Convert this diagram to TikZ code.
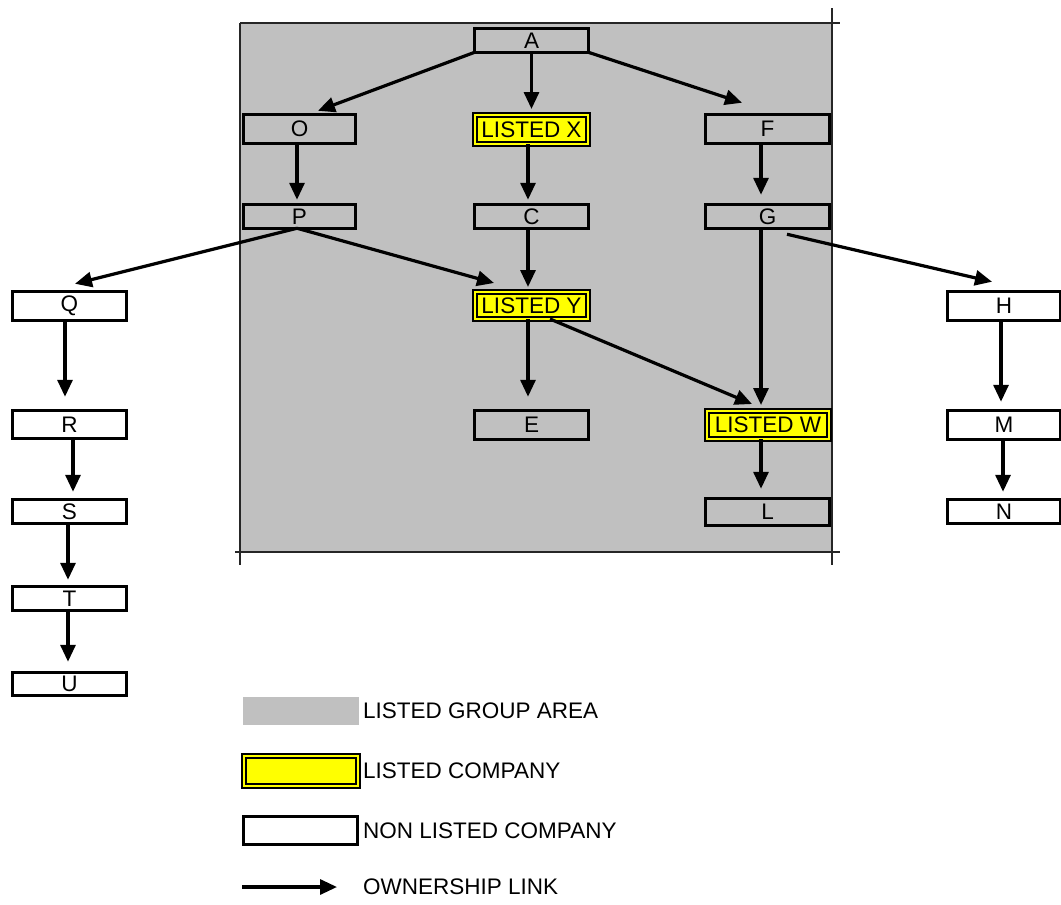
\documentclass[tikz,border=0pt]{standalone}
\usepackage{fontspec}
\setmainfont{Liberation Sans}
\usetikzlibrary{arrows.meta}
\definecolor{areagrey}{HTML}{C0C0C0}
\definecolor{listedyellow}{HTML}{FFFF00}
\begin{document}
\begin{tikzpicture}[x=1pt,y=-1pt,
  lbl/.style={font=\fontsize{22.5}{26}\selectfont},
  box/.style={draw, line width=3.2pt, inner sep=0pt, outer sep=0pt, lbl},
  listed/.style={draw, line width=2.6pt, double=listedyellow, double distance=1.5pt,
    fill=listedyellow, inner sep=0pt, outer sep=0pt, lbl},
  whitebox/.style={box, fill=white},
  arr/.style={line width=3.2pt, -{Triangle[length=17pt,width=15pt]}},
  thin/.style={line width=1.4pt, black!85}
]
\useasboundingbox (0,0) rectangle (1061,905);
% listed group area
\fill[areagrey] (240,23) rectangle (832,552);
\draw[thin] (240,23) -- (840,23);
\draw[thin] (832,8) -- (832,565);
\draw[thin] (240,23) -- (240,565);
\draw[thin] (235,552) -- (840,552);

% nodes: inside area
\node[box, minimum width=113.5pt, minimum height=23.5pt] (A) at (531.5,40.5) {A};
\node[box, minimum width=111.5pt, minimum height=28.5pt] (O) at (299.5,129) {O};
\node[listed, minimum width=113pt, minimum height=29pt] (X) at (531.5,129.5) {LISTED X};
\node[box, minimum width=123.5pt, minimum height=28.5pt] (F) at (767.5,129) {F};
\node[box, minimum width=111.5pt, minimum height=23.5pt] (P) at (299.5,216.5) {P};
\node[box, minimum width=113.5pt, minimum height=23.5pt] (C) at (531.5,216.5) {C};
\node[box, minimum width=123.5pt, minimum height=23.5pt] (G) at (767.5,216.5) {G};
\node[listed, minimum width=113pt, minimum height=27pt] (Y) at (531.5,305.5) {LISTED Y};
\node[box, minimum width=113.5pt, minimum height=28.5pt] (E) at (531.5,425) {E};
\node[listed, minimum width=122pt, minimum height=28pt] (W) at (768,425) {LISTED W};
\node[box, minimum width=123.5pt, minimum height=26.5pt] (L) at (767.5,512) {L};

% nodes: outside area
\node[whitebox, minimum width=113.5pt, minimum height=28.5pt] (Q) at (69.5,306) {Q};
\node[whitebox, minimum width=113.5pt, minimum height=27.5pt] (R) at (69.5,424.5) {R};
\node[whitebox, minimum width=113.5pt, minimum height=23.5pt] (S) at (69.5,511.5) {S};
\node[whitebox, minimum width=113.5pt, minimum height=23.5pt] (T) at (69.5,598.5) {T};
\node[whitebox, minimum width=113.5pt, minimum height=22.5pt] (U) at (69.5,684) {U};
\node[whitebox, minimum width=113.5pt, minimum height=28.5pt] (H) at (1004,306) {H};
\node[whitebox, minimum width=113.5pt, minimum height=28.5pt] (M) at (1004,425) {M};
\node[whitebox, minimum width=113.5pt, minimum height=23.5pt] (N) at (1004,511.5) {N};

% ownership links
\draw[arr] (A.south west) -- ([xshift=18.5pt,yshift=4pt]O.north);
\draw[arr] (A.south) -- ([yshift=6pt]X.north);
\draw[arr] (A.south east) -- ([xshift=-25.5pt,yshift=12pt]F.north);
\draw[arr] ([xshift=-2.5pt]O.south) -- ([xshift=-2.5pt,yshift=5pt]P.north);
\draw[arr] ([xshift=-3.5pt]X.south) -- ([xshift=-3.5pt,yshift=5pt]C.north);
\draw[arr] ([xshift=-6.5pt]F.south) -- ([xshift=-6.5pt,yshift=10pt]G.north);
\draw[arr] ([xshift=-2.5pt]P.south) -- ([xshift=5.5pt,yshift=8pt]Q.north);
\draw[arr] ([xshift=-2.5pt]P.south) -- ([xshift=-37.5pt,yshift=9pt]Y.north);
\draw[arr] ([xshift=-3.5pt]C.south) -- ([xshift=-3.5pt,yshift=5pt]Y.north);
\draw[arr] ([xshift=19.5pt,yshift=-6pt]G.south) -- ([xshift=-12pt,yshift=10pt]H.north);
\draw[arr] ([xshift=-6.5pt]G.south) -- ([xshift=-7pt,yshift=6pt]W.north);
\draw[arr] ([xshift=-3.5pt]Y.south) -- ([xshift=-3.5pt,yshift=14pt]E.north);
\draw[arr] ([xshift=18.5pt]Y.south) -- ([xshift=-16pt,yshift=7pt]W.north);
\draw[arr] ([xshift=-7pt]W.south) -- ([xshift=-6.5pt,yshift=10pt]L.north);
\draw[arr] ([xshift=-4.5pt]Q.south) -- ([xshift=-4.5pt,yshift=14pt]R.north);
\draw[arr] ([xshift=-3pt]H.south) -- ([xshift=-3pt,yshift=9pt]M.north);
\draw[arr] ([xshift=3.5pt]R.south) -- ([xshift=3.5pt,yshift=8pt]S.north);
\draw[arr] ([xshift=-1pt]M.south) -- ([xshift=-1pt,yshift=8pt]N.north);
\draw[arr] ([xshift=-1.5pt]S.south) -- ([xshift=-1.5pt,yshift=7pt]T.north);
\draw[arr] ([xshift=-1.5pt]T.south) -- ([xshift=-1.5pt,yshift=11pt]U.north);

% legend
\fill[areagrey] (243,697) rectangle (359,725);
\node[lbl, anchor=west, inner sep=0pt] (lg1) at (363,711) {LISTED GROUP AREA};
\node[listed, minimum width=114pt, minimum height=30pt] (lk2) at (301,771) {};
\node[lbl, anchor=west, inner sep=0pt] (lg2) at (363,771) {LISTED COMPANY};
\node[whitebox, minimum width=113.5pt, minimum height=27.5pt] (lk3) at (300.5,830.5) {};
\node[lbl, anchor=west, inner sep=0pt] (lg3) at (363,831) {NON LISTED COMPANY};
\coordinate (la) at (242,887);
\coordinate (lb) at (337,887);
\draw[arr] (la) -- (lb);
\node[lbl, anchor=west, inner sep=0pt] (lg4) at (363,887) {OWNERSHIP LINK};
\end{tikzpicture}
\end{document}
